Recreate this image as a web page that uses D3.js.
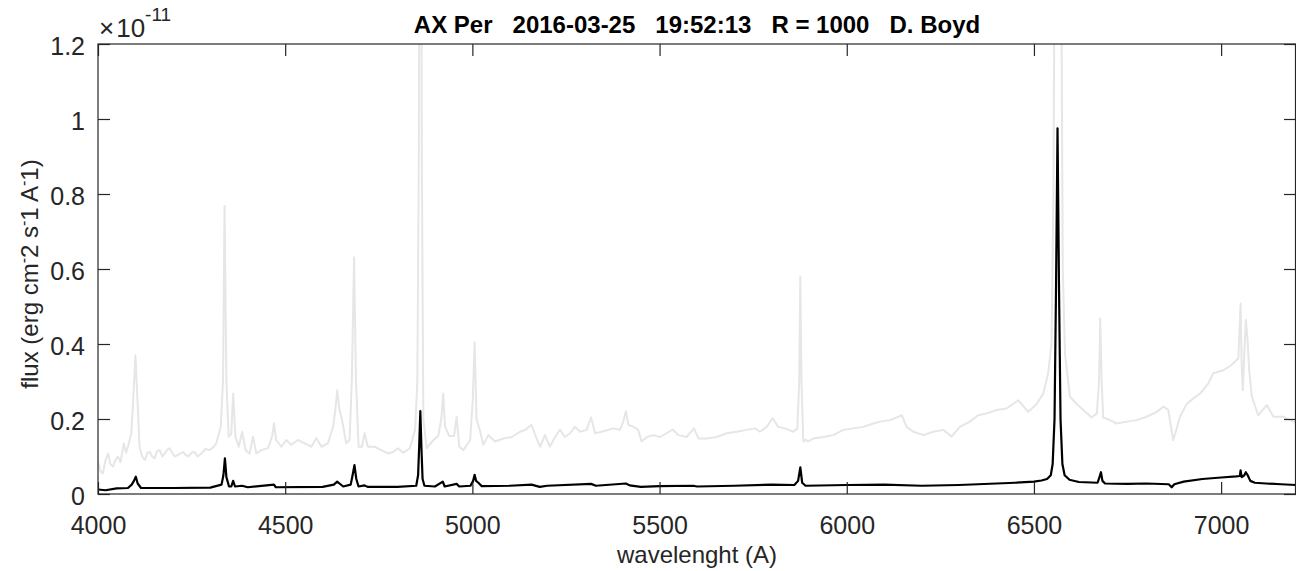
<!DOCTYPE html>
<html lang="en">
<head>
<meta charset="UTF-8">
<title>AX Per spectrum</title>
<script src="https://cdn.jsdelivr.net/npm/d3@7"></script>
<style>
  * { margin: 0; padding: 0; box-sizing: border-box; }
  body { background: #fff; overflow: hidden; }
  svg { display: block; font-family: 'Liberation Sans', Arial, sans-serif; }
  .tick-label { font-size: 25px; fill: #262626; }
  .axis-label { font-size: 24px; fill: #262626; }
</style>
</head>
<body>
<svg width="1296" height="571"></svg>
<script>
// Spectrum data, flux in units of 1e-11 erg cm-2 s-1 A-1

// light gray spectrum
const grayWave = [
  4000, 4007, 4013, 4020, 4027, 4033, 4040, 4046, 4053, 4060, 4069, 4075, 4080, 4089, 4095, 4100, 4105, 4111,
  4118, 4125, 4132, 4138, 4145, 4151, 4158, 4165, 4172, 4178, 4185, 4191, 4198, 4205, 4215, 4227, 4233, 4240,
  4250, 4258, 4266, 4276, 4287, 4298, 4308, 4316, 4328, 4334, 4338, 4343, 4349, 4356, 4361, 4367, 4376, 4385,
  4394, 4405, 4414, 4423, 4436, 4454, 4465, 4470, 4476, 4490, 4503, 4516, 4534, 4552, 4570, 4583, 4597, 4614,
  4628, 4634, 4639, 4645, 4652, 4663, 4672, 4678, 4684, 4689, 4696, 4705, 4712, 4721, 4739, 4757, 4775, 4788,
  4801, 4815, 4833, 4847, 4853, 4857, 4861, 4865, 4869, 4878, 4896, 4909, 4917, 4922, 4927, 4938, 4951, 4958,
  4965, 4976, 4994, 5001, 5006, 5011, 5020, 5029, 5043, 5060, 5083, 5105, 5127, 5141, 5158, 5170, 5181, 5194,
  5207, 5221, 5234, 5247, 5261, 5274, 5288, 5305, 5317, 5328, 5345, 5363, 5377, 5394, 5403, 5410, 5417, 5430,
  5443, 5452, 5466, 5483, 5501, 5519, 5535, 5550, 5572, 5592, 5604, 5626, 5653, 5679, 5706, 5733, 5755, 5768,
  5786, 5802, 5817, 5835, 5857, 5868, 5873, 5876, 5879, 5884, 5890, 5897, 5911, 5938, 5964, 5991, 6018, 6044,
  6071, 6089, 6116, 6147, 6160, 6178, 6205, 6231, 6258, 6280, 6302, 6329, 6351, 6374, 6400, 6427, 6458, 6485,
  6507, 6525, 6538, 6547, 6552, 6556, 6560, 6564, 6568, 6572, 6577, 6583, 6596, 6614, 6632, 6654, 6668, 6674,
  6677, 6681, 6685, 6703, 6721, 6748, 6774, 6801, 6828, 6846, 6859, 6866, 6872, 6880, 6890, 6908, 6926, 6944,
  6966, 6979, 7006, 7028, 7046, 7052, 7055, 7058, 7063, 7066, 7070, 7075, 7082, 7099, 7122, 7140, 7166, 7193,
  7200
];
const grayFlux = [
  0.086, 0.060, 0.055, 0.090, 0.108, 0.080, 0.073, 0.090, 0.100, 0.085, 0.135, 0.110, 0.126, 0.162, 0.270, 0.370, 0.260, 0.126,
  0.100, 0.091, 0.110, 0.112, 0.100, 0.095, 0.115, 0.117, 0.100, 0.108, 0.118, 0.122, 0.110, 0.100, 0.105, 0.112, 0.105, 0.100,
  0.110, 0.112, 0.100, 0.108, 0.120, 0.117, 0.125, 0.135, 0.180, 0.304, 0.768, 0.300, 0.153, 0.160, 0.268, 0.153, 0.126, 0.166,
  0.117, 0.108, 0.153, 0.108, 0.117, 0.122, 0.153, 0.189, 0.144, 0.126, 0.144, 0.131, 0.144, 0.135, 0.126, 0.149, 0.126, 0.135,
  0.180, 0.224, 0.277, 0.224, 0.197, 0.135, 0.144, 0.304, 0.631, 0.304, 0.126, 0.126, 0.162, 0.126, 0.126, 0.117, 0.108, 0.112,
  0.122, 0.110, 0.122, 0.171, 0.300, 0.900, 2.500, 0.900, 0.200, 0.122, 0.144, 0.155, 0.200, 0.268, 0.180, 0.155, 0.155, 0.205,
  0.126, 0.117, 0.144, 0.250, 0.405, 0.200, 0.170, 0.131, 0.157, 0.140, 0.148, 0.152, 0.166, 0.171, 0.184, 0.152, 0.126, 0.157,
  0.126, 0.152, 0.172, 0.152, 0.162, 0.179, 0.166, 0.171, 0.204, 0.162, 0.166, 0.171, 0.175, 0.171, 0.193, 0.220, 0.184, 0.179,
  0.171, 0.140, 0.152, 0.157, 0.152, 0.162, 0.172, 0.157, 0.152, 0.175, 0.148, 0.148, 0.152, 0.162, 0.166, 0.171, 0.175, 0.166,
  0.179, 0.202, 0.179, 0.175, 0.166, 0.175, 0.300, 0.580, 0.300, 0.140, 0.145, 0.140, 0.148, 0.152, 0.157, 0.171, 0.175, 0.179,
  0.188, 0.193, 0.197, 0.210, 0.179, 0.166, 0.157, 0.166, 0.171, 0.153, 0.179, 0.193, 0.210, 0.215, 0.224, 0.228, 0.250, 0.219,
  0.240, 0.268, 0.322, 0.402, 0.800, 1.600, 3.000, 3.500, 3.000, 1.600, 0.600, 0.374, 0.260, 0.240, 0.224, 0.204, 0.215, 0.300,
  0.468, 0.300, 0.204, 0.197, 0.188, 0.193, 0.197, 0.206, 0.219, 0.233, 0.224, 0.180, 0.144, 0.170, 0.206, 0.240, 0.255, 0.268,
  0.295, 0.322, 0.330, 0.344, 0.362, 0.508, 0.340, 0.277, 0.400, 0.464, 0.420, 0.330, 0.260, 0.210, 0.237, 0.206, 0.206, 0.193,
  0.190
];

// black spectrum
const blackWave = [
  4000, 4020, 4050, 4080, 4090, 4096, 4101, 4106, 4115, 4200, 4300, 4330, 4335, 4339, 4343, 4350, 4356, 4361,
  4366, 4385, 4400, 4470, 4475, 4600, 4630, 4639, 4645, 4655, 4675, 4680, 4685, 4690, 4696, 4712, 4720, 4800,
  4850, 4855, 4858, 4861, 4864, 4867, 4872, 4900, 4921, 4926, 4958, 4965, 4995, 5002, 5006, 5010, 5016, 5025,
  5100, 5158, 5180, 5200, 5317, 5330, 5410, 5420, 5450, 5500, 5590, 5600, 5700, 5800, 5860, 5870, 5876, 5881,
  5890, 6000, 6100, 6200, 6300, 6400, 6450, 6500, 6520, 6535, 6545, 6550, 6555, 6559, 6563, 6567, 6571, 6576,
  6582, 6595, 6620, 6670, 6675, 6679, 6683, 6690, 6750, 6800, 6860, 6868, 6875, 6900, 6950, 7000, 7040, 7050,
  7052, 7055, 7062, 7066, 7071, 7078, 7090, 7120, 7160, 7200
];
const blackFlux = [
  0.012, 0.010, 0.015, 0.016, 0.025, 0.035, 0.046, 0.028, 0.016, 0.016, 0.017, 0.025, 0.050, 0.095, 0.045, 0.020, 0.020, 0.035,
  0.020, 0.022, 0.018, 0.025, 0.018, 0.019, 0.025, 0.033, 0.028, 0.020, 0.025, 0.050, 0.077, 0.040, 0.020, 0.023, 0.019, 0.019,
  0.022, 0.050, 0.130, 0.221, 0.120, 0.040, 0.022, 0.020, 0.033, 0.020, 0.027, 0.020, 0.022, 0.035, 0.051, 0.035, 0.030, 0.021,
  0.022, 0.025, 0.019, 0.022, 0.027, 0.022, 0.028, 0.023, 0.019, 0.021, 0.022, 0.020, 0.022, 0.025, 0.024, 0.035, 0.071, 0.030,
  0.022, 0.024, 0.025, 0.022, 0.024, 0.028, 0.030, 0.033, 0.036, 0.040, 0.050, 0.080, 0.200, 0.550, 0.975, 0.550, 0.200, 0.080,
  0.050, 0.038, 0.032, 0.030, 0.045, 0.058, 0.035, 0.028, 0.027, 0.028, 0.026, 0.018, 0.026, 0.033, 0.040, 0.044, 0.047, 0.048,
  0.063, 0.045, 0.050, 0.058, 0.050, 0.035, 0.030, 0.028, 0.026, 0.024
];

const xTicks = [4000, 4500, 5000, 5500, 6000, 6500, 7000];
const yTicks = [0, 0.2, 0.4, 0.6, 0.8, 1, 1.2];

const titleText = 'AX Per\u00a0\u00a0\u00a02016-03-25\u00a0\u00a0\u00a019:52:13\u00a0\u00a0\u00a0R = 1000\u00a0\u00a0\u00a0D. Boyd';

const margin = { top: 44, right: 0, bottom: 77, left: 98 };
const width = 1296;
const height = 571;
const axisColor = '#262626';
const tickLen = 12;

const svg = d3.select('svg');

const x = d3.scaleLinear().domain([4000, 7200]).range([margin.left, width - margin.right]);
const y = d3.scaleLinear().domain([0, 1.2]).range([height - margin.bottom, margin.top]);

svg.append('defs').append('clipPath').attr('id', 'plot-clip')
  .append('rect')
  .attr('x', x(4000)).attr('y', y(1.2))
  .attr('width', x(7200) - x(4000)).attr('height', y(0) - y(1.2));

const line = d3.line().x(d => x(d[0])).y(d => y(d[1]));

const plot = svg.append('g').attr('clip-path', 'url(#plot-clip)');

plot.append('path')
  .datum(d3.zip(grayWave, grayFlux))
  .attr('d', line)
  .attr('fill', 'none')
  .attr('stroke', '#e6e6e6')
  .attr('stroke-width', 2)
  .attr('stroke-linejoin', 'round');

plot.append('path')
  .datum(d3.zip(blackWave, blackFlux))
  .attr('d', line)
  .attr('fill', 'none')
  .attr('stroke', '#000')
  .attr('stroke-width', 2.2)
  .attr('stroke-linejoin', 'round');

// Axes: box with inward ticks on all four sides
const fmtY = d => (d === 0 ? '0' : d === 1 ? '1' : d3.format('.1f')(d));

svg.append('g')
  .attr('transform', `translate(0,${y(0)})`)
  .call(d3.axisBottom(x).tickValues(xTicks).tickSizeInner(-tickLen).tickSizeOuter(0).tickPadding(22).tickFormat(d3.format('d')))
  .call(g => g.select('.domain').remove())
  .call(g => g.selectAll('text').attr('class', 'tick-label').attr('font-family', null).attr('font-size', null).attr('fill', null));

svg.append('g')
  .attr('transform', `translate(0,${y(1.2)})`)
  .call(d3.axisTop(x).tickValues(xTicks).tickSizeInner(-tickLen).tickSizeOuter(0).tickFormat(''))
  .call(g => g.select('.domain').remove());

svg.append('g')
  .attr('transform', `translate(${x(4000)},0)`)
  .call(d3.axisLeft(y).tickValues(yTicks).tickSizeInner(-tickLen).tickSizeOuter(0).tickPadding(13).tickFormat(fmtY))
  .call(g => g.select('.domain').remove())
  .call(g => g.selectAll('text').attr('class', 'tick-label').attr('font-family', null).attr('font-size', null).attr('fill', null).attr('dy', '0.42em'));

svg.append('g')
  .attr('transform', `translate(${x(7200)},0)`)
  .call(d3.axisRight(y).tickValues(yTicks).tickSizeInner(-tickLen).tickSizeOuter(0).tickFormat(''))
  .call(g => g.select('.domain').remove());

svg.selectAll('.tick line').attr('stroke', axisColor).attr('stroke-width', 1.2);

svg.append('rect')
  .attr('x', x(4000)).attr('y', y(1.2))
  .attr('width', x(7200) - x(4000) - 0.5).attr('height', y(0) - y(1.2))
  .attr('fill', 'none')
  .attr('stroke', axisColor)
  .attr('stroke-width', 1.2);

// Exponent label
const expo = svg.append('text')
  .attr('x', 99).attr('y', 37)
  .attr('fill', axisColor)
  .style('font-size', '26px');
expo.append('tspan').text('\u00d7');
expo.append('tspan').attr('dx', 2).text('10');
expo.append('tspan').attr('dy', -16).style('font-size', '19px').text('-11');

// Title
svg.append('text')
  .attr('x', (x(4000) + x(7200)) / 2).attr('y', 33)
  .attr('text-anchor', 'middle')
  .style('font-size', '24px').style('font-weight', 'bold')
  .attr('fill', '#000')
  .text(titleText);

// Axis labels
svg.append('text')
  .attr('class', 'axis-label')
  .attr('x', (x(4000) + x(7200)) / 2).attr('y', 563)
  .attr('text-anchor', 'middle')
  .text('wavelenght (A)');

const yl = svg.append('text')
  .attr('class', 'axis-label')
  .attr('transform', `translate(38,${(y(0) + y(1.2)) / 2 + 5}) rotate(-90)`)
  .attr('text-anchor', 'middle');
const sup = t => yl.append('tspan').attr('dy', -9).style('font-size', '16px').text(t);
const base = t => yl.append('tspan').attr('dy', 9).text(t);
yl.append('tspan').text('flux (erg cm');
sup('-'); base('2 s');
sup('-'); base('1 A');
sup('-'); base('1)');
</script>
</body>
</html>
